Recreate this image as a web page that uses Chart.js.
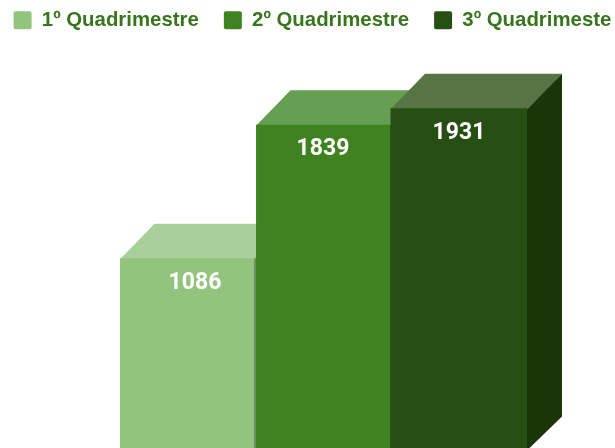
<!DOCTYPE html>
<html>
<head>
<meta charset="utf-8">
<script src="https://cdn.jsdelivr.net/npm/chart.js@4"></script>
<style>
  html, body { margin: 0; padding: 0; background: #fff; overflow: hidden; width: 615px; height: 448px; }
  /* wider than the window so the legend keeps one row, and pulled up to sit near the top */
  #box { position: absolute; left: -13px; top: -15px; width: 651px; height: 466px; }
</style>
</head>
<body>
<div id="box"><canvas id="chart"></canvas></div>
<script>
// Data
const categories = ['Quadrimestres'];
const seriesNames = ['1º Quadrimestre', '2º Quadrimestre', '3º Quadrimeste'];
const seriesValues = [[1086], [1839], [1931]];

// Colours: front, top, side
const frontColors = ['#93c47d', '#3f8321', '#274e13'];
const topColors = ['#a9d09a', '#659f52', '#577445'];
const sideColors = ['#6f8f63', '#2c5c17', '#193609'];

// Extruded look, tops and sides go under the native bars
const DEPTH = 34.5;
const LABEL_SHIFT = [8, 0, 0];

const extrudePlugin = {
  id: 'extrude',
  beforeDatasetsDraw(chart) {
    const ctx = chart.ctx;
    chart.data.datasets.forEach((ds, i) => {
      const bar = chart.getDatasetMeta(i).data[0];
      const left = bar.x - bar.width / 2;
      const right = bar.x + bar.width / 2;
      // right side, starts 1px under the front so no light seam shows
      ctx.fillStyle = sideColors[i];
      ctx.beginPath();
      ctx.moveTo(right - 1, bar.y);
      ctx.lineTo(right + DEPTH, bar.y - DEPTH);
      ctx.lineTo(right + DEPTH, bar.base - DEPTH);
      ctx.lineTo(right - 1, bar.base);
      ctx.closePath();
      ctx.fill();
      // top
      ctx.fillStyle = topColors[i];
      ctx.beginPath();
      ctx.moveTo(left, bar.y + 1);
      ctx.lineTo(left + DEPTH, bar.y - DEPTH);
      ctx.lineTo(right + DEPTH, bar.y - DEPTH);
      ctx.lineTo(right, bar.y + 1);
      ctx.closePath();
      ctx.fill();
    });
  },
  afterDatasetsDraw(chart) {
    const ctx = chart.ctx;
    ctx.save();
    ctx.fillStyle = '#ffffff';
    ctx.font = '700 23px Roboto';
    ctx.textAlign = 'center';
    ctx.textBaseline = 'middle';
    chart.data.datasets.forEach((ds, i) => {
      const bar = chart.getDatasetMeta(i).data[0];
      ctx.fillText(String(ds.data[0]), bar.x + LABEL_SHIFT[i], bar.y + 25);
    });
    ctx.restore();
  }
};

new Chart(document.getElementById('chart'), {
  type: 'bar',
  data: {
    labels: categories,
    datasets: seriesNames.map((name, i) => ({
      label: name,
      data: seriesValues[i],
      backgroundColor: frontColors[i],
      borderWidth: 0,
      categoryPercentage: 1,
      barPercentage: i === 2 ? 1.007 : 0.985
    }))
  },
  options: {
    responsive: true,
    maintainAspectRatio: false,
    animation: false,
    plugins: {
      legend: {
        position: 'top',
        labels: {
          boxWidth: 18,
          boxHeight: 18,
          padding: 25,
          color: '#38761d',
          useBorderRadius: true,
          borderRadius: 2,
          font: { family: 'Liberation Sans', weight: 'bold', size: 20.4 }
        }
      },
      tooltip: { enabled: false }
    },
    scales: {
      x: { display: false },
      y: {
        min: 0,
        max: 2314,
        ticks: { display: false },
        grid: { display: false },
        border: { display: false },
        afterFit(scale) { scale.width = 132; }
      },
      // empty axis, only holds the right margin
      yRight: {
        position: 'right',
        ticks: { display: false },
        grid: { display: false },
        border: { display: false },
        afterFit(scale) { scale.width = 111; }
      }
    }
  },
  plugins: [extrudePlugin]
});
</script>
</body>
</html>
